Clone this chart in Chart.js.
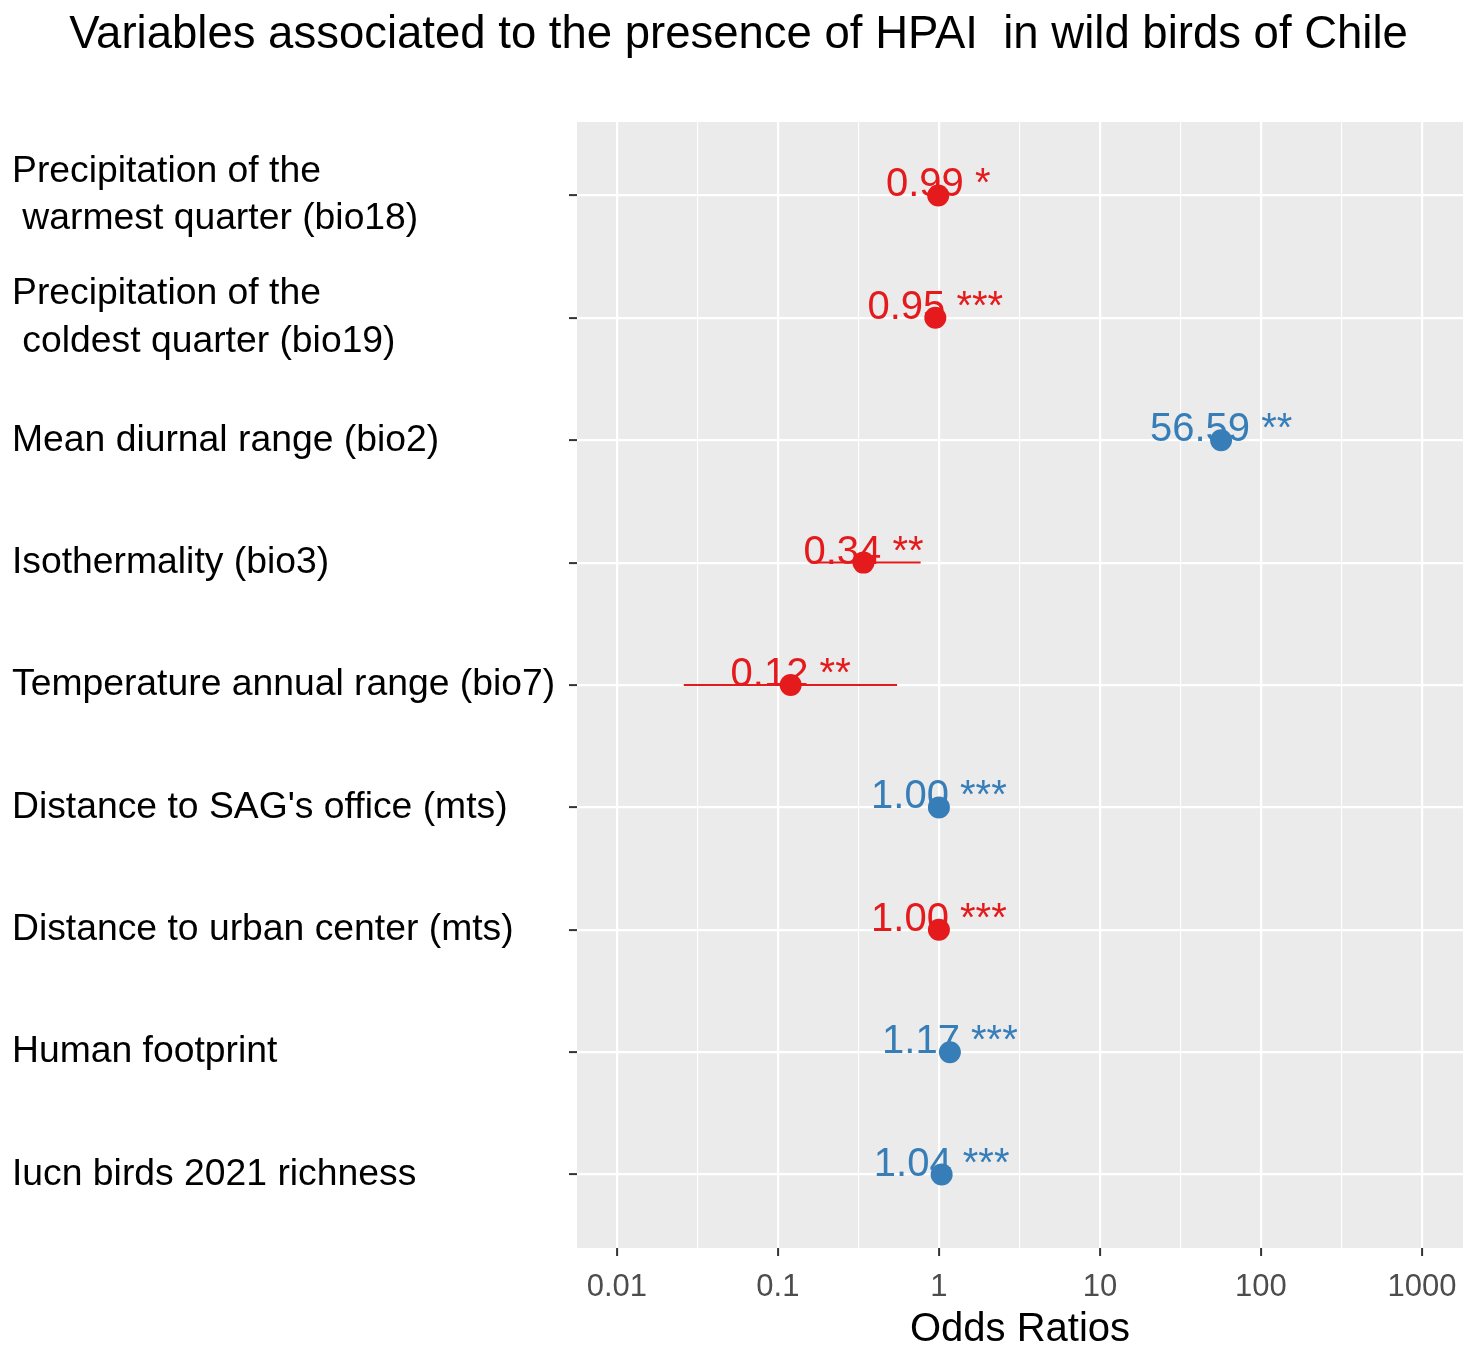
<!DOCTYPE html>
<html>
<head>
<meta charset="utf-8">
<title>Variables associated to the presence of HPAI in wild birds of Chile</title>
<script src="https://cdn.jsdelivr.net/npm/chart.js@4.4.0/dist/chart.umd.min.js"></script>
<style>
  html, body { margin: 0; padding: 0; background: #ffffff; }
  #wrap { width: 1477px; height: 1352px; }
</style>
</head>
<body>
<div id="wrap"><canvas id="myChart" width="1477" height="1352"></canvas></div>
<script>
// Dữ liệu
const titleText = "Variables associated to the presence of HPAI  in wild birds of Chile";
const xTitle = "Odds Ratios";
const categories = [
  ["Precipitation of the", " warmest quarter (bio18)"],
  ["Precipitation of the", " coldest quarter (bio19)"],
  "Mean diurnal range (bio2)",
  "Isothermality (bio3)",
  "Temperature annual range (bio7)",
  "Distance to SAG's office (mts)",
  "Distance to urban center (mts)",
  "Human footprint",
  "Iucn birds 2021 richness"
];
const oddsRatios = [0.99, 0.95, 56.59, 0.34, 0.12, 1.00, 1.00, 1.17, 1.04];
const ciLow = [0.98, 0.92, 52, 0.16, 0.026, 0.99, 0.99, 1.12, 1.02];
const ciHigh = [1.00, 0.98, 62, 0.77, 0.55, 1.00, 1.00, 1.22, 1.06];
const stars = ["*", "***", "**", "**", "**", "***", "***", "***", "***"];
// dấu hiệu tác động: "neg" = đỏ, "pos" = xanh
const effectSign = ["neg", "neg", "pos", "neg", "neg", "pos", "neg", "pos", "pos"];
const majorTicks = [0.01, 0.1, 1, 10, 100, 1000];
const majorTickLabels = ["0.01", "0.1", "1", "10", "100", "1000"];
const minorTicks = [0.0316, 0.316, 3.16, 31.6, 316];

const FONT = "'Liberation Sans', Arial, Helvetica, sans-serif";
const signColors = { neg: "#E41A1C", pos: "#377EB8" };

// Nền xám của panel + tiêu đề
const panelPlugin = {
  id: "panel",
  beforeDraw(chart) {
    const { ctx, chartArea: a } = chart;
    ctx.save();
    ctx.fillStyle = "#EBEBEB";
    ctx.fillRect(a.left, a.top, a.right - a.left, a.bottom - a.top);
    ctx.fillStyle = "#000000";
    ctx.font = "45.5px " + FONT;
    ctx.textAlign = "center";
    ctx.textBaseline = "alphabetic";
    ctx.fillText(titleText, chart.width / 2, 48);
    ctx.restore();
  }
};

// Khoảng tin cậy và nhãn giá trị
const errorPlugin = {
  id: "errorBars",
  beforeDatasetsDraw(chart) {
    const { ctx } = chart;
    const xs = chart.scales.x, ys = chart.scales.y;
    ctx.save();
    oddsRatios.forEach((or, i) => {
      const y = ys.getPixelForValue(i + 1);
      const col = signColors[effectSign[i]];
      ctx.strokeStyle = col;
      ctx.lineWidth = 2;
      ctx.beginPath();
      ctx.moveTo(xs.getPixelForValue(ciLow[i]), y);
      ctx.lineTo(xs.getPixelForValue(ciHigh[i]), y);
      ctx.stroke();
      ctx.fillStyle = col;
      ctx.font = "40px " + FONT;
      ctx.textAlign = "center";
      ctx.textBaseline = "alphabetic";
      ctx.fillText(or.toFixed(2) + " " + stars[i], xs.getPixelForValue(or), y + 1);
    });
    ctx.restore();
  }
};

new Chart("myChart", {
  type: "scatter",
  data: {
    datasets: [
      {
        data: oddsRatios.map((v, i) => ({ x: v, y: i + 1 })),
        backgroundColor: effectSign.map((s) => signColors[s]),
        borderWidth: 0,
        pointRadius: 11,
        pointHoverRadius: 11
      }
    ]
  },
  options: {
    responsive: false,
    devicePixelRatio: 1,
    animation: false,
    layout: { padding: { top: 122, left: 12, right: 14, bottom: 0 } },
    plugins: {
      legend: { display: false },
      tooltip: { enabled: false },
      title: { display: false }
    },
    scales: {
      x: {
        type: "logarithmic",
        min: 0.00565,
        max: 1800,
        border: { display: false },
        afterBuildTicks(scale) {
          scale.ticks = majorTicks.concat(minorTicks).map((v) => ({ value: v }));
        },
        afterFit(scale) {
          scale.height = 104;
        },
        grid: {
          color: "#FFFFFF",
          lineWidth: (c) => (c.tick && majorTicks.includes(c.tick.value) ? 2.2 : 1.1),
          tickColor: (c) => (c.tick && majorTicks.includes(c.tick.value) ? "#333333" : "rgba(0,0,0,0)"),
          tickLength: 8,
          tickWidth: 2
        },
        ticks: {
          autoSkip: false,
          maxRotation: 0,
          padding: 13,
          color: "#4D4D4D",
          font: { family: FONT, size: 31 },
          callback: (value) => {
            const k = majorTicks.indexOf(value);
            return k >= 0 ? majorTickLabels[k] : "";
          }
        },
        title: {
          display: true,
          text: xTitle,
          color: "#000000",
          font: { family: FONT, size: 40, lineHeight: 1 },
          padding: { top: 0, bottom: 2 }
        }
      },
      y: {
        type: "linear",
        reverse: true,
        min: 0.4,
        max: 9.6,
        border: { display: false },
        afterBuildTicks(scale) {
          scale.ticks = categories.map((c, i) => ({ value: i + 1 }));
        },
        afterFit(scale) {
          scale.width = 577 - 12;
        },
        grid: {
          color: "#FFFFFF",
          lineWidth: 2.2,
          tickColor: "#333333",
          tickLength: 8,
          tickWidth: 2
        },
        ticks: {
          autoSkip: false,
          crossAlign: "far",
          color: "#000000",
          font: { family: FONT, size: 37.3, lineHeight: 1.27 },
          callback: (value) => categories[value - 1]
        }
      }
    }
  },
  plugins: [panelPlugin, errorPlugin]
});
</script>
</body>
</html>
